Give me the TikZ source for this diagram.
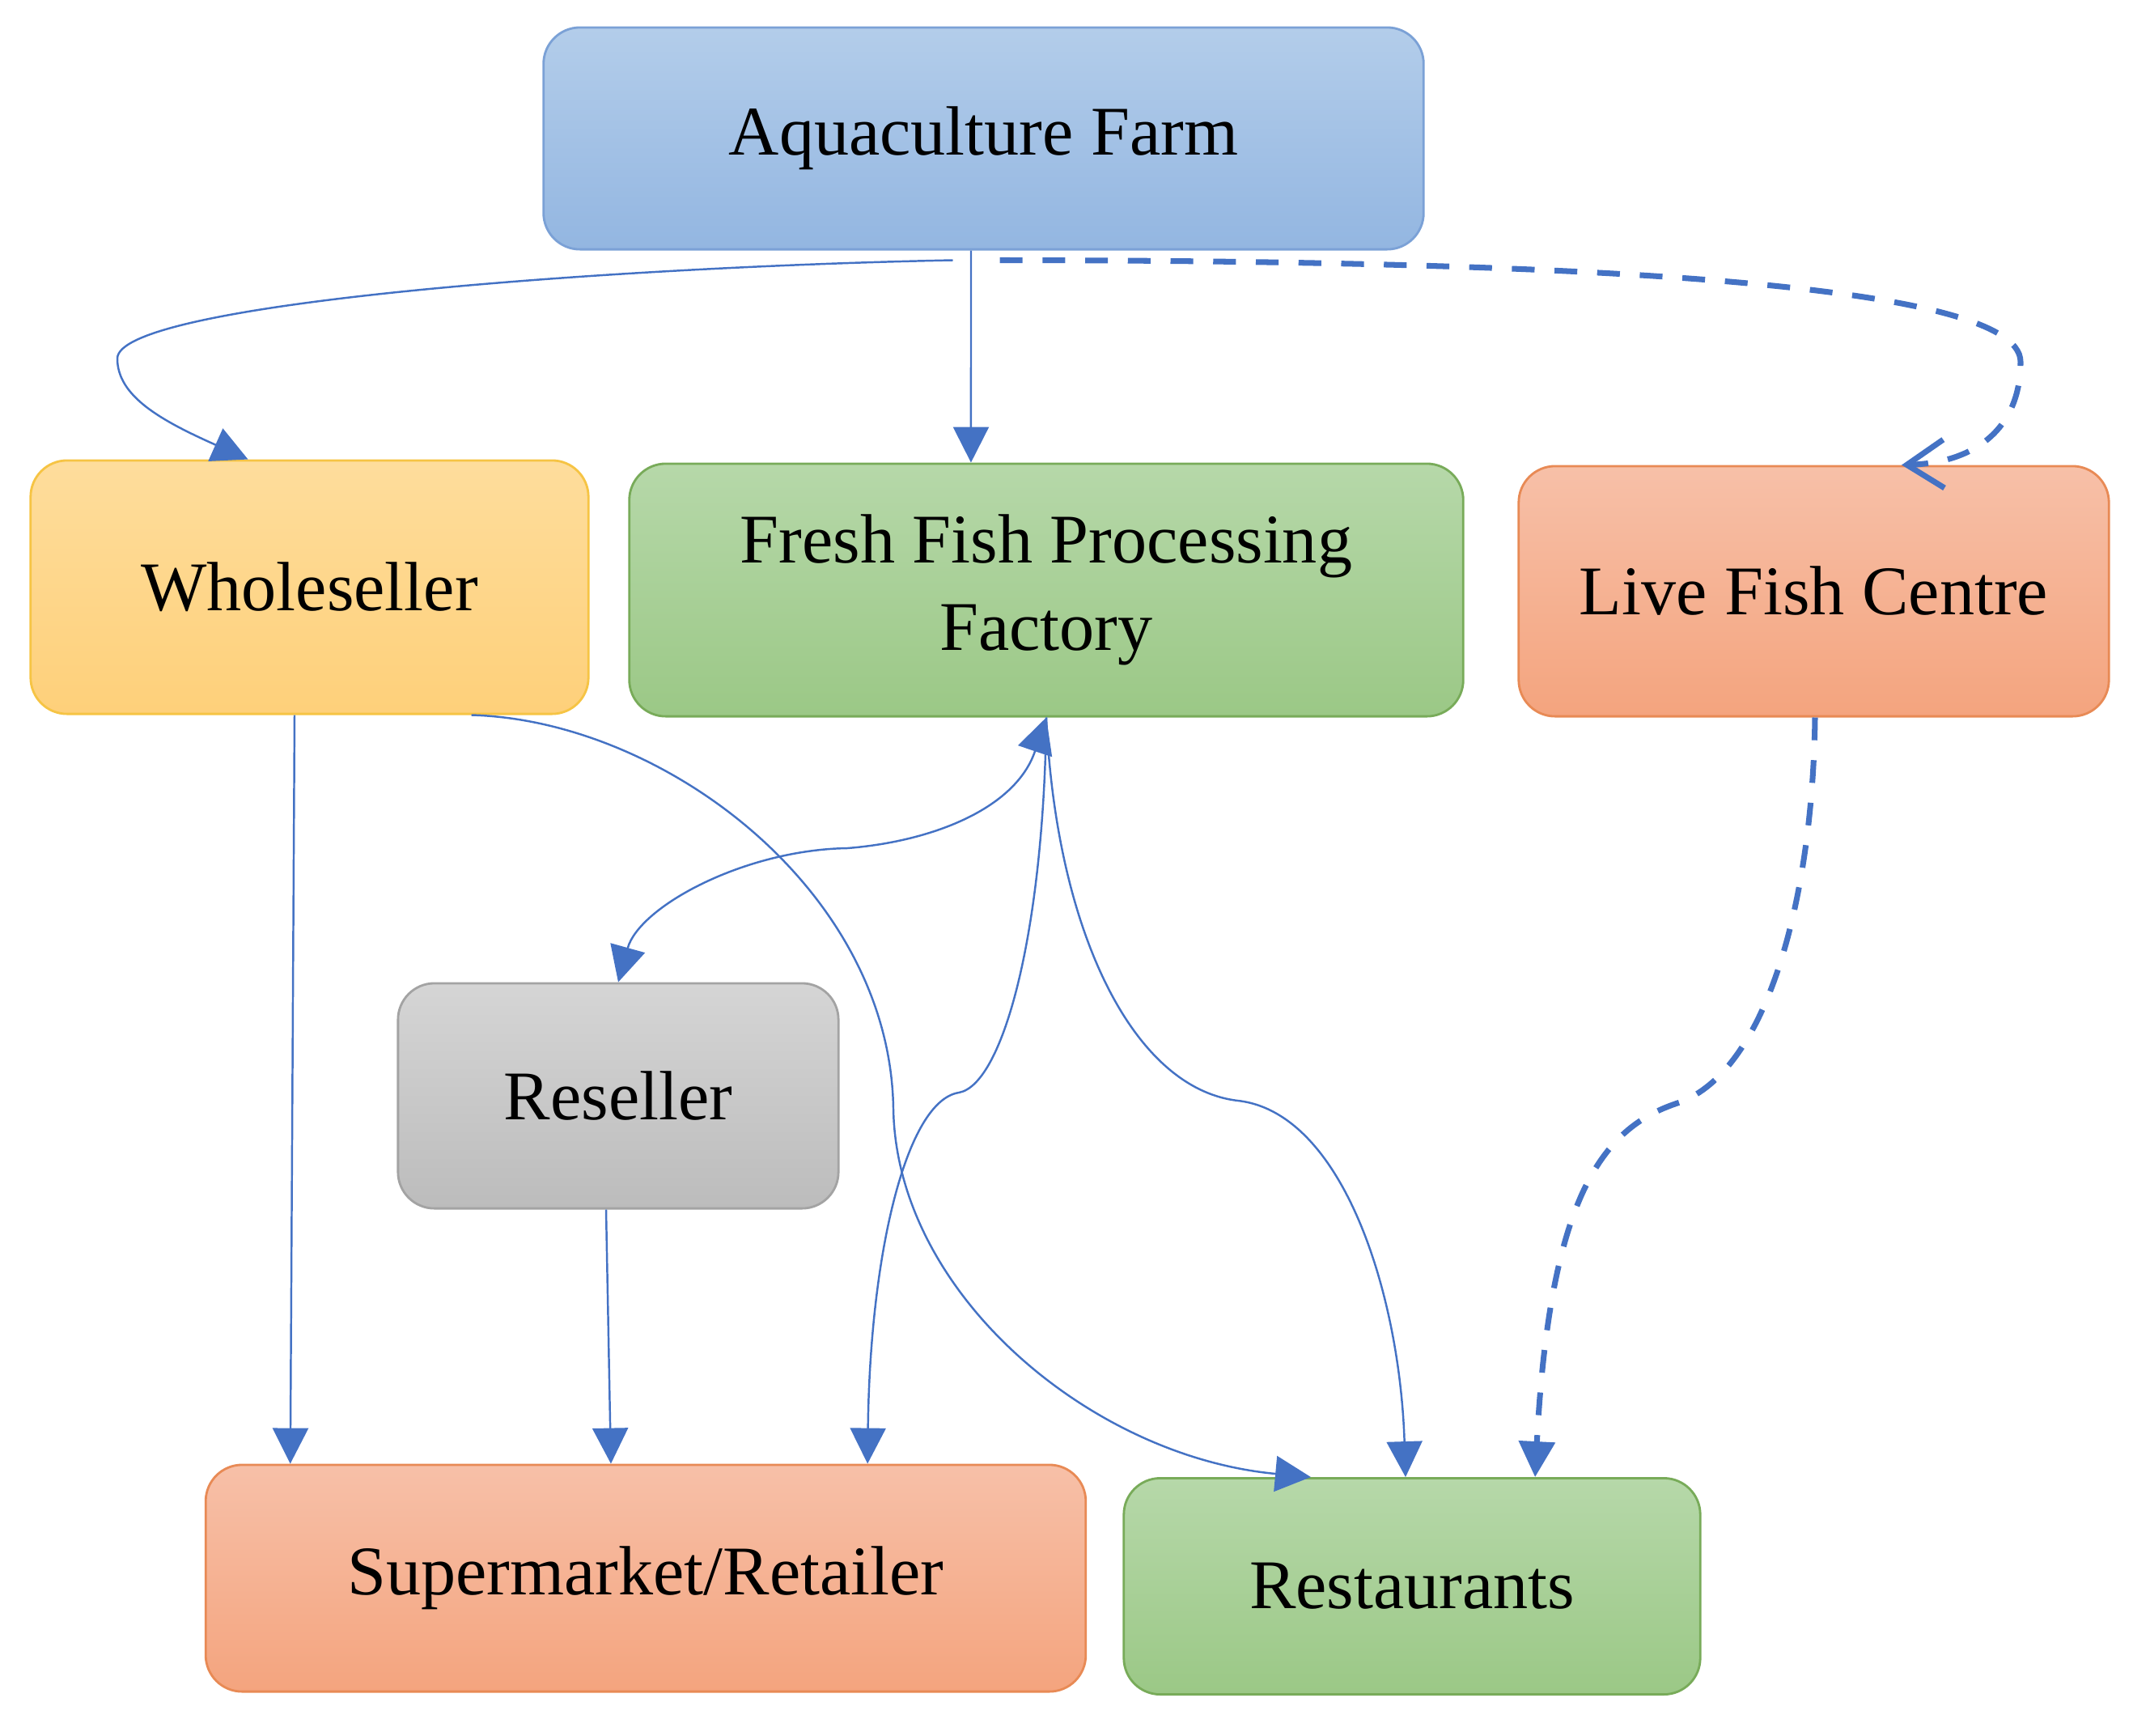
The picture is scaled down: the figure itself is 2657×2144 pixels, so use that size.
\documentclass[tikz,border=0pt]{standalone}
\usepackage{fontspec}
\setmainfont{Liberation Serif}
\usepackage{xcolor}
\usepackage{tikz}
\usetikzlibrary{arrows.meta,positioning,shapes}

\definecolor{flowblue}{HTML}{4472C4}
\definecolor{farmtop}{HTML}{B3CDEA}
\definecolor{farmbot}{HTML}{93B6E1}
\definecolor{farmedge}{HTML}{7BA1D6}
\definecolor{wholetop}{HTML}{FEDD9C}
\definecolor{wholebot}{HTML}{FED07A}
\definecolor{wholeedge}{HTML}{F6C444}
\definecolor{greentop}{HTML}{B6D8A9}
\definecolor{greenbot}{HTML}{9BC886}
\definecolor{greenedge}{HTML}{78AB59}
\definecolor{salmontop}{HTML}{F7C0A8}
\definecolor{salmonbot}{HTML}{F4A47E}
\definecolor{salmonedge}{HTML}{E88A55}
\definecolor{greytop}{HTML}{D5D5D5}
\definecolor{greybot}{HTML}{BCBCBC}
\definecolor{greyedge}{HTML}{A3A3A3}

\begin{document}
\begin{tikzpicture}[x=0.01cm, y=-0.01cm, >={Triangle[length=12.5pt,width=12.5pt]},
    box/.style={draw, rounded corners=0.45cm, align=center, line width=0.8pt,
                font=\fontsize{24.5}{30.5}\selectfont},
    bluebox/.style={box, draw=farmedge, top color=farmtop, bottom color=farmbot},
    yellowbox/.style={box, draw=wholeedge, top color=wholetop, bottom color=wholebot},
    greenbox/.style={box, draw=greenedge, top color=greentop, bottom color=greenbot},
    salmonbox/.style={box, draw=salmonedge, top color=salmontop, bottom color=salmonbot},
    greybox/.style={box, draw=greyedge, top color=greytop, bottom color=greybot},
    flow/.style={draw=flowblue, line width=0.7pt, ->},
    liveflow/.style={draw=flowblue, line width=2pt, dash pattern=on 8pt off 7pt}]
    \useasboundingbox (0,0) rectangle (2657,2144);

    \node[bluebox, minimum width=10.87cm, minimum height=2.74cm] (farm) at (1215.5,171) {Aquaculture Farm};
    \node[yellowbox, minimum width=6.89cm, minimum height=3.13cm] (whole) at (382.5,725.5) {Wholeseller};
    \node[greenbox, minimum width=10.30cm, minimum height=3.12cm] (factory) at (1293,729) {Fresh Fish Processing\\Factory};
    \node[salmonbox, minimum width=7.29cm, minimum height=3.09cm] (live) at (2241.5,730.5) {Live Fish Centre};
    \node[greybox, minimum width=5.44cm, minimum height=2.78cm] (resell) at (764,1354) {Reseller};
    \node[salmonbox, minimum width=10.87cm, minimum height=2.80cm] (market) at (798,1950) {Supermarket/Retailer};
    \node[greenbox, minimum width=7.12cm, minimum height=2.67cm] (rest) at (1745,1960) {Restaurants};

    % from the farm
    \draw[flow] ([shift={(-38,12)}]farm.south) .. controls (750,330) and (145,375) .. (145,443)
        .. controls (145,490) and (200,520) .. ([xshift=-0.76cm]whole.north);
    \draw[flow] ([xshift=-0.155cm]farm.south) -- ([xshift=-0.93cm]factory.north);
    \draw[liveflow, -{Straight Barb[length=13pt,width=17pt]}] ([shift={(20,12)}]farm.south)
        .. controls (1900,322) and (2497,345) .. (2497,447)
        .. controls (2497,530) and (2440,572) .. ([xshift=1.085cm]live.north);

    % from the wholeseller
    \draw[flow] ([xshift=-0.185cm]whole.south) -- ([xshift=-4.39cm]market.north);
    \draw[flow] ([xshift=2cm]whole.south) .. controls (820,890) and (1100,1100) .. (1104,1370)
        .. controls (1108,1600) and (1350,1800) .. ([xshift=-1.25cm]rest.north);

    % from the factory
    \draw[flow, <->] (factory.south) .. controls (1255,1000) and (1150,1040) .. (1047,1048)
        .. controls (920,1050) and (790,1120) .. (resell.north);
    \draw[flow] (factory.south) .. controls (1290,1150) and (1240,1340) .. (1185,1350)
        .. controls (1120,1360) and (1075,1550) .. ([xshift=2.74cm]market.north);
    \draw[flow] (factory.south) .. controls (1305,1150) and (1400,1345) .. (1530,1360)
        .. controls (1660,1375) and (1730,1600) .. ([xshift=-0.08cm]rest.north);

    \draw[flow] ([xshift=-0.15cm]resell.south) -- ([xshift=-0.43cm]market.north);
    \draw[liveflow, ->] ([xshift=0.015cm]live.south) .. controls (2240,1120) and (2180,1330) .. (2070,1364)
        .. controls (1980,1395) and (1915,1480) .. ([xshift=1.52cm]rest.north);
\end{tikzpicture}
\end{document}
